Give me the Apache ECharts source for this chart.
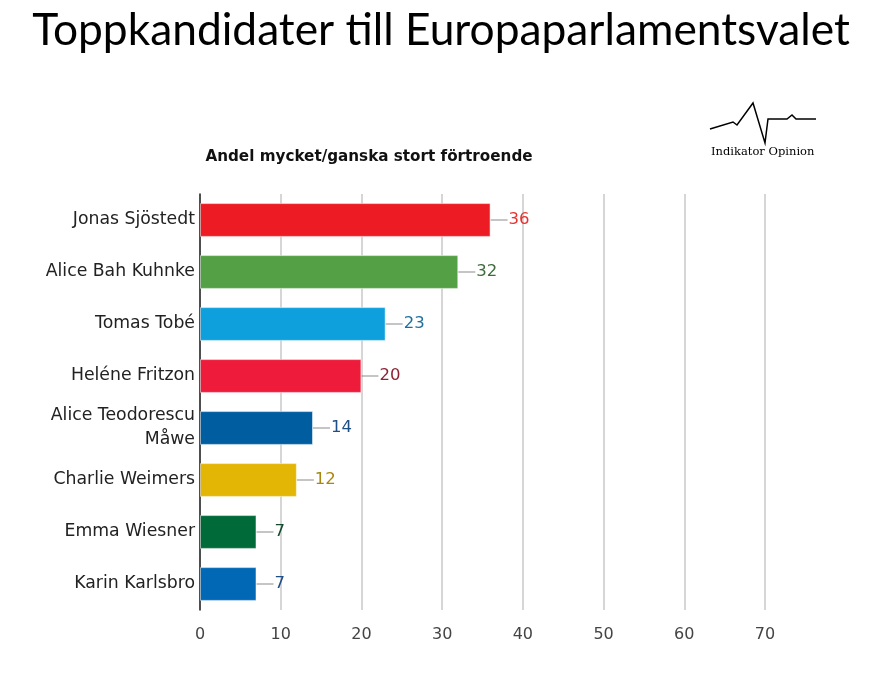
<!DOCTYPE html>
<html><head><meta charset="utf-8">
<script src="https://cdn.jsdelivr.net/npm/echarts@6/dist/echarts.min.js"></script>
<style>html,body{margin:0;padding:0;background:#fff}#c{width:895px;height:680px}</style>
</head><body><div id="c"></div>
<script>
const categories = ["Jonas Sjöstedt","Alice Bah Kuhnke","Tomas Tobé","Heléne Fritzon","Alice Teodorescu\nMåwe","Charlie Weimers","Emma Wiesner","Karin Karlsbro"];
const values = [36,32,23,20,14,12,7,7];
const barColors = ["#ED1C24","#53A045","#0EA0DC","#EE1B3A","#005DA0","#E3B505","#006B38","#0068B4"];
const labelColors = ["#E8312F","#3D6B3A","#1E6E9C","#8E2235","#1F4E86","#A8870F","#114A2C","#1F4E86"];
const xTicks = [0,10,20,30,40,50,60,70];

const chart = echarts.init(document.getElementById('c'));
const font = '"DejaVu Sans", sans-serif';
chart.setOption({
  animation:false,
  title:[{text:'Toppkandidater till Europaparlamentsvalet',left:436,textAlign:'center',top:4,
    textStyle:{fontFamily:'Lato, sans-serif',fontWeight:400,fontSize:44.3,color:'#000'}},
   {text:'Andel mycket/ganska stort förtroende',left:364,textAlign:'center',top:145,
    textStyle:{fontFamily:font,fontWeight:'bold',fontSize:15.2,color:'#111'}}],
  graphic:[
    {type:'polyline',shape:{points:[[710,129],[733,122],[737,125],[753,103],[765,143],[768,119],[787,119],[792,115],[796,119],[816,119]]},
     style:{stroke:'#000',lineWidth:1.5,fill:null}},
    {type:'text',left:711,top:146,style:{text:'Indikator Opinion',font:'11.5px "DejaVu Serif", serif',fill:'#000'}}
  ],
  grid:{left:200,right:130,top:194,bottom:70},
  xAxis:{type:'value',min:xTicks[0],max:xTicks[xTicks.length-1],interval:10,
    axisLine:{show:false},axisTick:{show:false},
    splitLine:{lineStyle:{color:'#c8c8c8',width:1.5}},
    axisLabel:{fontFamily:font,fontSize:16,color:'#444',margin:17}},
  yAxis:{type:'category',data:categories,inverse:true,
    axisLine:{lineStyle:{color:'#222',width:1.5}},axisTick:{show:false},
    axisLabel:{fontFamily:font,fontSize:17.3,color:'#222',margin:5,lineHeight:24}},
  series:[{type:'bar',barCategoryGap:'35%',
    data:values.map((v,i)=>({value:v,itemStyle:{color:barColors[i],borderColor:'rgba(255,255,255,0.5)',borderWidth:1},
      label:{color:labelColors[i]}})),
    label:{show:true,position:'right',distance:0,fontFamily:font,fontSize:16.5,
      formatter:p=>'{l|}{v|'+p.value+'}',
      rich:{l:{width:17,height:1,backgroundColor:'#8a8a8a'},v:{fontFamily:font,fontSize:16.5,padding:[0,0,0,1]}}}
  }]
});
</script></body></html>
